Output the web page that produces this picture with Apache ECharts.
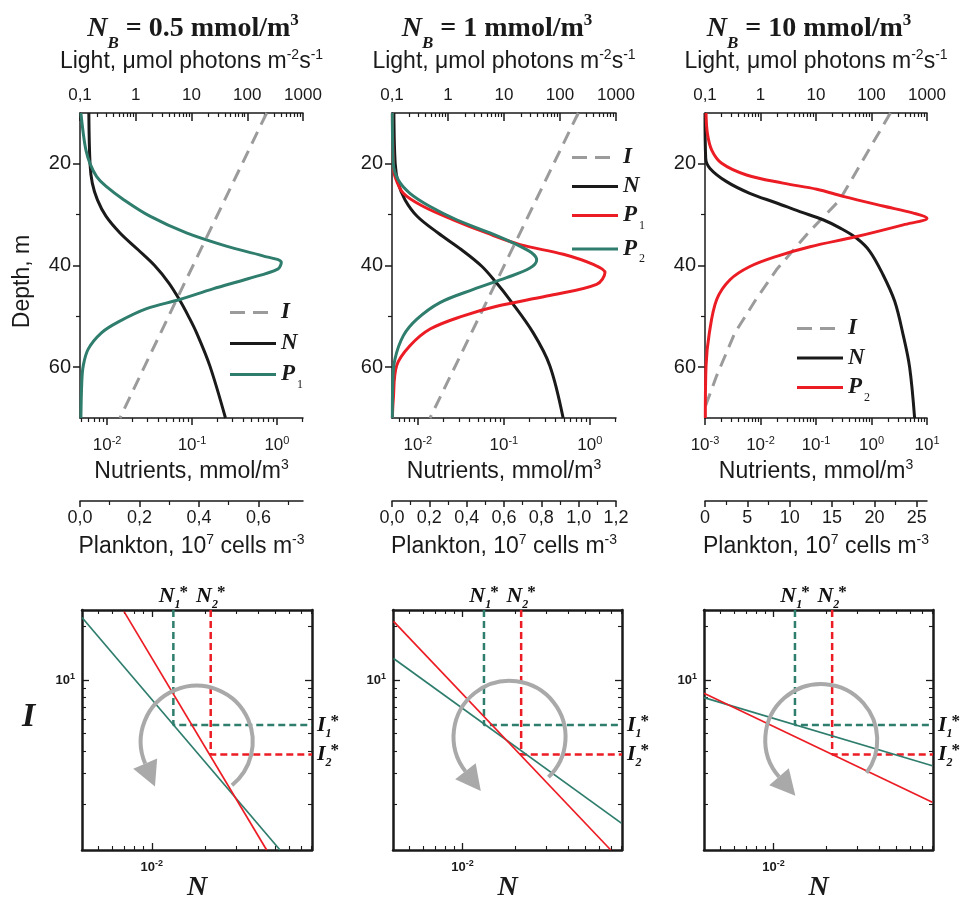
<!DOCTYPE html>
<html><head><meta charset="utf-8">
<script src="https://cdn.jsdelivr.net/npm/echarts@6/dist/echarts.min.js"></script>
<style>html,body{margin:0;padding:0;background:#fff}#c{width:962px;height:905px}</style>
</head><body><div id="c"></div>
<script>
// ================= DATA =================
// Top row: vertical profiles. Depth in m; Light in µmol photons m-2 s-1;
// Nutrients in mmol/m3; Plankton in 1e7 cells m-3.
const titlesNB = ['0.5', '1', '10'];
const lightTicks = [0.1, 1, 10, 100, 1000];
const depthTicks = [20, 40, 60];
const nutTicksLow = [0.01, 0.1, 1];
const nutTicksHigh = [0.001, 0.01, 0.1, 1, 10];
const plankTicks1 = [0, 0.2, 0.4, 0.6];
const plankTicks2 = [0, 0.2, 0.4, 0.6, 0.8, 1.0, 1.2];
const plankTicks3 = [0, 5, 10, 15, 20, 25];

// Panel 1: N_B = 0.5
const p1Depth_I = [10, 46.7, 70];
const p1_I = [223, 5.4, 0.52];
const p1Depth_N = [10, 20, 23.8, 27.1, 30.3, 33.6, 36.9, 40, 43.4, 46.7, 50, 53.2, 59.7, 70];
const p1_N = [0.0061, 0.0063, 0.0067, 0.0077, 0.0097, 0.0142, 0.0232, 0.0363, 0.0532, 0.071, 0.091, 0.113, 0.162, 0.248];
const p1Depth_P1 = [10, 14, 17.3, 20, 22.5, 24.4, 27.1, 30.3, 33.6, 36.2, 38.1, 39.4, 40.7, 42.6, 44.6, 46.7, 48.5, 51.1, 53.2, 56.4, 59.7, 63, 70];
const p1_P1 = [0.003, 0.011, 0.02, 0.034, 0.056, 0.087, 0.148, 0.235, 0.358, 0.492, 0.615, 0.677, 0.665, 0.565, 0.447, 0.336, 0.224, 0.129, 0.073, 0.028, 0.011, 0.006, 0.003];

// Panel 2: N_B = 1
const p2Depth_I = [10, 36.3, 70];
const p2_I = [212, 14.7, 0.477];
const p2Depth_N = [10, 20, 23.8, 27.1, 30.3, 33.6, 36.9, 40.1, 43.4, 46.7, 53.2, 59.7, 70];
const p2_N = [0.00526, 0.00545, 0.0059, 0.0071, 0.0098, 0.0172, 0.0322, 0.055, 0.082, 0.117, 0.219, 0.343, 0.49];
const p2Depth_P1 = [10, 20, 22.5, 25.8, 28.4, 31, 33.6, 35.9, 37.8, 39.8, 41.4, 43.7, 46, 48, 49.9, 52.5, 55.8, 59.7, 66.3, 70];
const p2_P1 = [0.002, 0.007, 0.016, 0.061, 0.168, 0.328, 0.507, 0.686, 0.918, 1.078, 1.141, 1.096, 0.829, 0.561, 0.382, 0.204, 0.096, 0.025, 0.007, 0.002];
const p2Depth_P2 = [10, 20, 23.2, 25.8, 28.4, 31, 33.6, 35.9, 37.5, 38.9, 40.5, 42.4, 44.7, 47.3, 50.6, 53.8, 58.4, 63, 70];
const p2_P2 = [0.002, 0.007, 0.034, 0.096, 0.204, 0.346, 0.525, 0.668, 0.748, 0.775, 0.739, 0.614, 0.436, 0.257, 0.132, 0.061, 0.016, 0.004, 0.002];

// Panel 3: N_B = 10
const p3Depth_I = [10, 18.6, 27.1, 33.6, 40.8, 46.7, 53.2, 61.7, 67.9];
const p3_I = [219, 76, 26.8, 7.2, 1.95, 0.826, 0.347, 0.162, 0.1];
const p3Depth_N = [10, 18.9, 20.9, 23.5, 25.8, 27.7, 29.4, 31, 32.6, 34.6, 37.2, 41.8, 47, 53.5, 60, 70];
const p3_N = [0.001, 0.00103, 0.00123, 0.00245, 0.0064, 0.0195, 0.051, 0.134, 0.268, 0.534, 0.93, 1.61, 2.61, 3.69, 4.86, 5.98];
const p3Depth_P2 = [10, 14, 17.3, 19.9, 22.2, 23.8, 25, 26.4, 28.3, 29.7, 30.7, 32, 34.3, 36.3, 38.2, 40.2, 42.8, 46.7, 53.3, 59.8, 70];
const p3_P2 = [0.12, 0.28, 0.79, 1.97, 4.9, 9.2, 13.2, 16.3, 21, 24.6, 26.2, 23.4, 17.9, 12.4, 8.45, 5.3, 2.95, 1.38, 0.51, 0.12, 0.04];

// Bottom row: (N, I) diagrams on log-log axes
const bottomN = [0.00403, 0.0805];
const bottomI = [1.11, 24.7];
const bottomTickN = [0.01];
const bottomTickI = [10];
const nStar = [0.01324, 0.02153];   // N1*, N2*
const iStar = [5.58, 3.82];         // I1*, I2*
const b1RedN = [0.00697, 0.0446],  b1RedI = [24.2, 1.11];
const b1TealN = [0.00403, 0.0531], b1TealI = [22.4, 1.11];
const b2RedN = [0.00406, 0.0695],  b2RedI = [21.3, 1.11];
const b2TealN = [0.00406, 0.0798], b2TealI = [13.2, 1.57];
const b3RedN = [0.00403, 0.0798],  b3RedI = [8.42, 2.06];
const b3TealN = [0.00403, 0.0798], b3TealI = [7.96, 3.30];
const arcCenterN = [0.01795, 0.0185, 0.01867];
const arcCenterI = [4.50, 4.79, 4.60];

// ================= STYLE =================
const SANS = '"Liberation Sans", Arial, Helvetica, sans-serif';
const SERIF = '"Liberation Serif", "Times New Roman", serif';
const INK = '#1a1a1a', TEAL = '#2e7d6d', RED = '#ec1c24', GRAY = '#9b9b9b', ARC = '#a9a9a9';
const arcAngles = [[51, -203], [46, -218], [36, -221]];
const DASH_ICON = 'path://M0,0H15V3H0Z M23,0H38V3H23Z M46,0H46V3H46Z';

const chart = echarts.init(document.getElementById('c'), null, {renderer: 'canvas', width: 962, height: 905});

const comma = v => v.toFixed(1).replace('.', ',');
const expLabel = v => '{b|10}{s|' + Math.round(Math.log10(v)) + '}';
const zip = (xs, ys) => xs.map((x, k) => [x, ys[k]]);

const grid = [], xAxis = [], yAxis = [], series = [], legend = [], title = [];

const topBoxes = [[80, 223], [392, 224], [705, 222]];
const botBoxes = [[82, 230], [393, 229], [704, 229]];
topBoxes.forEach(([l, w]) => grid.push({left: l, top: 113, width: w, height: 305, containLabel: false, outerBoundsMode: 'none'}));
botBoxes.forEach(([l, w]) => grid.push({left: l, top: 610, width: w, height: 240, containLabel: false, outerBoundsMode: 'none'}));

const nameRich = {
  t: {fontFamily: SANS, fontSize: 23, color: INK, lineHeight: 28},
  s: {fontFamily: SANS, fontSize: 14, color: INK, verticalAlign: 'top', lineHeight: 14}
};
const legendRich = {
  i: {fontFamily: SERIF, fontStyle: 'italic', fontWeight: 'bold', fontSize: 23, color: INK, lineHeight: 22},
  s: {fontFamily: SERIF, fontSize: 12, color: INK, verticalAlign: 'bottom', lineHeight: 12, padding: [0, 0, -5, 2]}
};
function legendText(name) {
  const base = name.split('#')[0];
  if (base === 'I') return '{i|I}';
  if (base === 'N') return '{i|N}';
  return '{i|P}{s|' + base.slice(1) + '}';
}
const axLine = w => ({show: true, onZero: false, lineStyle: {color: INK, width: w}});
const tick = (len, inside, w) => ({show: true, inside: inside, length: len, lineStyle: {color: INK, width: w || 1.5}});
const minor = (n, len, w) => ({show: true, splitNumber: n, length: len, lineStyle: {color: INK, width: w || 1.2}});

const topPanels = [
  {nb: titlesNB[0], cx: 193, nMin: 0.0048, nMax: 2.03, nTicks: nutTicksLow,
   pMax: 0.75, pInt: 0.2, pTicks: plankTicks1, pFmt: comma,
   legendLeft: 230, legendTop: 301, legendGap: 8,
   curves: [['I', 'light', p1_I, p1Depth_I, GRAY, true], ['N', 'nut', p1_N, p1Depth_N, INK, false], ['P1', 'plank', p1_P1, p1Depth_P1, TEAL, false]]},
  {nb: titlesNB[1], cx: 497, nMin: 0.005, nMax: 2.02, nTicks: nutTicksLow,
   pMax: 1.2, pInt: 0.2, pTicks: plankTicks2, pFmt: comma,
   legendLeft: 572, legendTop: 146, legendGap: 6,
   curves: [['I', 'light', p2_I, p2Depth_I, GRAY, true], ['N', 'nut', p2_N, p2Depth_N, INK, false], ['P1', 'plank', p2_P1, p2Depth_P1, RED, false], ['P2', 'plank', p2_P2, p2Depth_P2, TEAL, false]]},
  {nb: titlesNB[2], cx: 809, nMin: 0.001, nMax: 10, nTicks: nutTicksHigh,
   pMax: 26.2, pInt: 5, pTicks: plankTicks3, pFmt: v => String(v),
   legendLeft: 797, legendTop: 317, legendGap: 6.5,
   curves: [['I', 'light', p3_I, p3Depth_I, GRAY, true], ['N', 'nut', p3_N, p3Depth_N, INK, false], ['P2', 'plank', p3_P2, p3Depth_P2, RED, false]]}
];

topPanels.forEach((P, i) => {
  title.push({
    text: '{n|N}{b|B}{t| = ' + P.nb + ' mmol/m}{p|3}', left: P.cx, top: 12, textAlign: 'center', padding: 0,
    textStyle: {rich: {
      n: {fontFamily: SERIF, fontWeight: 'bold', fontStyle: 'italic', fontSize: 28, color: INK, lineHeight: 34},
      b: {fontFamily: SERIF, fontWeight: 'bold', fontStyle: 'italic', fontSize: 17, color: INK, verticalAlign: 'bottom', lineHeight: 17, padding: [0, 0, -6, 0]},
      t: {fontFamily: SERIF, fontWeight: 'bold', fontSize: 28, color: INK, lineHeight: 34},
      p: {fontFamily: SERIF, fontWeight: 'bold', fontSize: 17, color: INK, verticalAlign: 'top', lineHeight: 17}
    }}
  });
  const ax = {};
  ax.light = xAxis.push({
    gridIndex: i, type: 'log', position: 'top', min: 0.1, max: 1000,
    axisLine: axLine(1.5), axisTick: Object.assign(tick(8, true), {customValues: lightTicks}),
    minorTick: minor(9, 4), splitLine: {show: false}, minorSplitLine: {show: false},
    axisLabel: {customValues: lightTicks, margin: 9, fontFamily: SANS, fontSize: 17, color: INK,
      formatter: v => v < 1 ? String(v).replace('.', ',') : String(v)},
    name: '{t|Light, \u03bcmol photons m}{s|-2}{t|s}{s|-1}', nameLocation: 'middle', nameGap: 37, nameMoveOverlap: false,
    nameTextStyle: {rich: nameRich}
  }) - 1;
  ax.nut = xAxis.push({
    gridIndex: i, type: 'log', position: 'bottom', min: P.nMin, max: P.nMax,
    axisLine: axLine(1.5), axisTick: Object.assign(tick(7, false), {customValues: P.nTicks}),
    minorTick: minor(9, 4), splitLine: {show: false}, minorSplitLine: {show: false},
    axisLabel: {customValues: P.nTicks, margin: 17, color: INK, formatter: expLabel,
      rich: {b: {fontFamily: SANS, fontSize: 17, color: INK, lineHeight: 20}, s: {fontFamily: SANS, fontSize: 11, color: INK, verticalAlign: 'top', lineHeight: 11}}},
    name: '{t|Nutrients, mmol/m}{s|3}', nameLocation: 'middle', nameGap: 40, nameMoveOverlap: false,
    nameTextStyle: {rich: nameRich}
  }) - 1;
  ax.plank = xAxis.push({
    gridIndex: i, type: 'value', position: 'bottom', offset: 83, min: 0, max: P.pMax, interval: P.pInt,
    axisLine: axLine(1.5), axisTick: Object.assign(tick(6, false), {customValues: P.pTicks}),
    minorTick: minor(2, 4), splitLine: {show: false},
    axisLabel: {customValues: P.pTicks, margin: 8, fontFamily: SANS, fontSize: 18, color: INK, formatter: P.pFmt},
    name: '{t|Plankton, 10}{s|7}{t| cells m}{s|-3}', nameLocation: 'middle', nameGap: 32, nameMoveOverlap: false,
    nameTextStyle: {rich: nameRich}
  }) - 1;
  const yD = yAxis.push({
    gridIndex: i, type: 'value', position: 'left', inverse: true, min: 10, max: 70, splitNumber: 3,
    axisLine: axLine(1.5), axisTick: Object.assign(tick(7, false), {customValues: depthTicks}),
    minorTick: minor(2, 4), splitLine: {show: false},
    axisLabel: {customValues: depthTicks, margin: 9, fontFamily: SANS, fontSize: 20, color: INK},
    name: i === 0 ? 'Depth, m' : '', nameLocation: 'middle', nameGap: 46, nameMoveOverlap: false,
    nameTextStyle: {fontFamily: SANS, fontSize: 23, color: INK, padding: [0, 32, 0, 0]}
  }) - 1;

  const names = [];
  P.curves.forEach(([key, axisKey, vals, depths, color, dashed]) => {
    const nm = key + '#' + (i + 1);
    names.push({name: nm, icon: dashed ? DASH_ICON : 'rect'});
    series.push({
      type: 'line', name: nm, xAxisIndex: ax[axisKey], yAxisIndex: yD,
      data: zip(vals, depths), symbol: 'none', showSymbol: false, smooth: dashed ? false : 0.35,
      itemStyle: {color: color},
      lineStyle: {color: color, width: 3, type: dashed ? [13, 8] : 'solid'},
      z: dashed ? 3 : 4, silent: true, animation: false
    });
  });
  legend.push({
    orient: 'vertical', left: P.legendLeft, top: P.legendTop, padding: 0,
    itemWidth: 46, itemHeight: 3, itemGap: P.legendGap, selectedMode: false,
    data: names, formatter: legendText, textStyle: {color: INK, rich: legendRich}
  });
});

// ---------- bottom row ----------
const bottomSets = [
  {red: [b1RedN, b1RedI], teal: [b1TealN, b1TealI]},
  {red: [b2RedN, b2RedI], teal: [b2TealN, b2TealI]},
  {red: [b3RedN, b3RedI], teal: [b3TealN, b3TealI]}
];
const starRich = {
  n: {fontFamily: SERIF, fontStyle: 'italic', fontWeight: 'bold', fontSize: 22, color: '#111', lineHeight: 24, textBorderWidth: 0, opacity: 1},
  s: {fontFamily: SERIF, fontStyle: 'italic', fontWeight: 'bold', fontSize: 12, color: '#111', verticalAlign: 'bottom', lineHeight: 12, padding: [0, 0, -3, 0], textBorderWidth: 0, opacity: 1},
  a: {fontFamily: SERIF, fontWeight: 'bold', fontSize: 17, color: '#111', verticalAlign: 'top', lineHeight: 14, padding: [0, 0, 0, -1], textBorderWidth: 0, opacity: 1}
};
const tickRich = {
  b: {fontFamily: SANS, fontWeight: 'bold', fontSize: 13, color: INK, lineHeight: 16},
  s: {fontFamily: SANS, fontWeight: 'bold', fontSize: 9, color: INK, verticalAlign: 'top', lineHeight: 9}
};

bottomSets.forEach((B, j) => {
  const g = 3 + j;
  const common = {type: 'log', splitLine: {show: false}, minorSplitLine: {show: false}};
  const bx = xAxis.push(Object.assign({}, common, {
    gridIndex: g, position: 'bottom', min: bottomN[0], max: bottomN[1],
    axisLine: axLine(2.5), axisTick: Object.assign(tick(7, true, 1.3), {customValues: bottomTickN}), minorTick: minor(9, 4, 1.1),
    axisLabel: {customValues: bottomTickN, margin: 9, formatter: expLabel, rich: tickRich},
    name: 'N', nameLocation: 'middle', nameGap: 24, nameMoveOverlap: false,
    nameTextStyle: {fontFamily: SERIF, fontStyle: 'italic', fontWeight: 'bold', fontSize: 28, color: INK}
  })) - 1;
  xAxis.push(Object.assign({}, common, {
    gridIndex: g, position: 'top', min: bottomN[0], max: bottomN[1],
    axisLine: axLine(2.5), axisTick: Object.assign(tick(7, true, 1.3), {customValues: bottomTickN}), minorTick: minor(9, 4, 1.1),
    axisLabel: {show: false}
  }));
  const ly = yAxis.push(Object.assign({}, common, {
    gridIndex: g, position: 'left', min: bottomI[0], max: bottomI[1],
    axisLine: axLine(2.5), axisTick: Object.assign(tick(7, true, 1.3), {customValues: bottomTickI}), minorTick: minor(9, 4, 1.1),
    axisLabel: {customValues: bottomTickI, margin: 7, formatter: expLabel, rich: tickRich}
  })) - 1;
  yAxis.push(Object.assign({}, common, {
    gridIndex: g, position: 'right', min: bottomI[0], max: bottomI[1],
    axisLine: axLine(2.5), axisTick: Object.assign(tick(7, true, 1.3), {customValues: bottomTickI}), minorTick: minor(9, 4, 1.1),
    axisLabel: {show: false}
  }));
  const base = {xAxisIndex: bx, yAxisIndex: ly, silent: true, animation: false};
  // dashed threshold lines
  series.push(Object.assign({}, base, {type: 'line', symbol: 'none', z: 2,
    data: [[nStar[0], bottomI[1]], [nStar[0], iStar[0]], [bottomN[1], iStar[0]]],
    lineStyle: {color: TEAL, width: 2.5, type: [7, 4]}}));
  series.push(Object.assign({}, base, {type: 'line', symbol: 'none', z: 2,
    data: [[nStar[1], bottomI[1]], [nStar[1], iStar[1]], [bottomN[1], iStar[1]]],
    lineStyle: {color: RED, width: 2.5, type: [7, 4]}}));
  // solid lines
  series.push(Object.assign({}, base, {type: 'line', symbol: 'none', z: 3,
    data: zip(B.teal[0], B.teal[1]), lineStyle: {color: TEAL, width: 1.7}}));
  series.push(Object.assign({}, base, {type: 'line', symbol: 'none', z: 3,
    data: zip(B.red[0], B.red[1]), lineStyle: {color: RED, width: 1.7}}));
  // star labels
  series.push(Object.assign({}, base, {type: 'scatter', symbol: 'circle', symbolSize: 0.01, clip: false,
    itemStyle: {color: INK}, z: 5,
    label: {show: true, rich: starRich, color: '#111', opacity: 1, textBorderWidth: 0},
    emphasis: {disabled: true},
    data: [
      {value: [nStar[0], bottomI[1]], label: {show: true, position: 'top', distance: 2, formatter: '{n|N}{s|1}{a|*}'}},
      {value: [nStar[1], bottomI[1]], label: {show: true, position: 'top', distance: 2, formatter: '{n|N}{s|2}{a|*}'}},
      {value: [bottomN[1], iStar[0]], label: {show: true, position: 'right', distance: 5, formatter: '{n|I}{s|1}{a|*}'}},
      {value: [bottomN[1], iStar[1]], label: {show: true, position: 'right', distance: 5, formatter: '{n|I}{s|2}{a|*}'}}
    ]}));
  // circular arrow
  const ang = arcAngles[j];
  series.push(Object.assign({}, base, {type: 'custom', z: 6,
    data: [[arcCenterN[j], arcCenterI[j]]],
    encode: {x: 0, y: 1},
    renderItem: (params, api) => {
      const c = api.coord([api.value(0), api.value(1)]);
      const r = 56;
      const a0 = ang[0] * Math.PI / 180, a1 = ang[1] * Math.PI / 180;
      const ex = c[0] + r * Math.cos(a1), ey = c[1] + r * Math.sin(a1);
      const dx = Math.sin(a1), dy = -Math.cos(a1);
      const nx = -dy, ny = dx;
      const L = 25, W = 13;
      return {type: 'group', children: [
        {type: 'arc', shape: {cx: c[0], cy: c[1], r: r, startAngle: a1, endAngle: a0, clockwise: true},
         style: {stroke: ARC, lineWidth: 4, fill: 'none'}},
        {type: 'polygon', shape: {points: [[ex + dx * L, ey + dy * L], [ex + nx * W, ey + ny * W], [ex - nx * W, ey - ny * W]]},
         style: {fill: ARC, stroke: 'none'}}
      ]};
    }}));
});

title.push({text: 'I', left: 22, top: 700, padding: 0,
  textStyle: {fontFamily: SERIF, fontStyle: 'italic', fontWeight: 'bold', fontSize: 34, color: INK}});

chart.setOption({
  animation: false,
  backgroundColor: '#ffffff',
  textStyle: {fontFamily: SANS},
  title: title, grid: grid, xAxis: xAxis, yAxis: yAxis, legend: legend, series: series,
  tooltip: {show: false}
});
</script></body></html>
